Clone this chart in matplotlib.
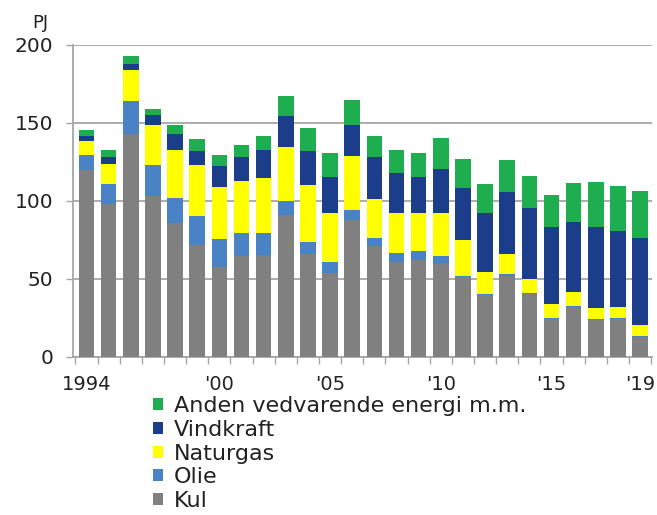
import numpy as np
import matplotlib
matplotlib.use('Agg')
import matplotlib.pyplot as plt

years = list(range(1994, 2020))

kul = [120, 98, 143, 103, 86, 72, 58, 64.5, 65.5, 91, 66, 54, 88, 71, 61, 62,
       60, 51, 39.5, 52, 40.5, 24.5, 32, 24, 24.5, 13]
olie = [9.5, 13, 21, 20, 16, 18.5, 17.5, 15, 14, 9, 7.5, 7, 6.5, 5, 5.5, 6,
        4.5, 1, 1, 1, 0.5, 0.5, 0.5, 0.5, 0.5, 0.5]
naturgas = [9, 13, 20, 26, 31, 32.5, 33.5, 33.5, 35.5, 34.5, 36.5, 31.5, 34.5,
            25.5, 26, 24.5, 28, 23, 14, 13, 9, 9, 9, 7, 7, 7]
vindkraft = [3, 4, 4, 6, 10, 9, 13.5, 15.5, 17.5, 20, 22, 23, 20, 27, 25.5, 23,
             28, 33.5, 37.5, 39.5, 45.5, 49.5, 45, 52, 48.5, 55.5]
anden = [4, 5, 5, 4, 5.5, 8, 7, 7.5, 9, 12.5, 14.5, 15, 15.5, 13, 14.5, 15,
         20, 18.5, 19, 20.5, 20.5, 20.5, 25, 29, 29, 30.5]

series = [
    ('Kul', kul, '#808080'),
    ('Olie', olie, '#4a82c6'),
    ('Naturgas', naturgas, '#ffff00'),
    ('Vindkraft', vindkraft, '#1b3d8a'),
    ('Anden vedvarende energi m.m.', anden, '#1fae4f'),
]

tick_years = [1994, 2000, 2005, 2010, 2015, 2019]
tick_labels = ['1994', "'00", "'05", "'10", "'15", "'19"]

plt.rcParams['font.family'] = 'DejaVu Sans'
txt = '#222222'
grid_col = '#a6a6a6'

fig = plt.figure(figsize=(6.57, 5.15), dpi=100)
ax = fig.add_axes([73 / 657, 1 - 357 / 515, 579 / 657, 312 / 515])

x = np.arange(len(years))
bottom = np.zeros(len(years))
handles = []
for name, vals, col in series:
    b = ax.bar(x, vals, width=0.7, bottom=bottom, color=col, label=name,
               linewidth=0, zorder=3)
    handles.append(b)
    bottom += np.array(vals)

ax.set_xlim(-0.61, 25.54)
ax.set_ylim(0, 200)
ax.set_yticks([0, 50, 100, 150, 200])
ax.yaxis.grid(True, color=grid_col, linewidth=1.3, zorder=0)
ax.set_axisbelow(True)

pos = [years.index(y) for y in tick_years]
ax.set_xticks(pos)
ax.set_xticklabels(tick_labels)
ax.set_xticks(np.arange(-0.5, len(years)), minor=True)
ax.tick_params(axis='x', which='major', length=0, pad=13, labelsize=14,
               labelcolor=txt)
ax.tick_params(axis='x', which='minor', length=5, width=1, color=grid_col)
ax.tick_params(axis='y', length=5, width=1, color=grid_col, pad=9,
               labelsize=14.5, labelcolor=txt)

for s in ['top', 'right']:
    ax.spines[s].set_visible(False)
for s in ['left', 'bottom']:
    ax.spines[s].set_color(grid_col)
    ax.spines[s].set_linewidth(1.3)

fig.text(40 / 657, 1 - 23 / 515, 'PJ', fontsize=13, color=txt,
         ha='center', va='center')

fig.legend(handles[::-1], [s[0] for s in series][::-1],
           loc='upper left', bbox_to_anchor=(153 / 657, 1 - 396 / 515),
           frameon=False, fontsize=16, handlelength=0.45, handleheight=0.45,
           handletextpad=0.5, labelspacing=0.17, borderpad=0,
           borderaxespad=0, labelcolor=txt)

fig.savefig('out.png', dpi=100)
